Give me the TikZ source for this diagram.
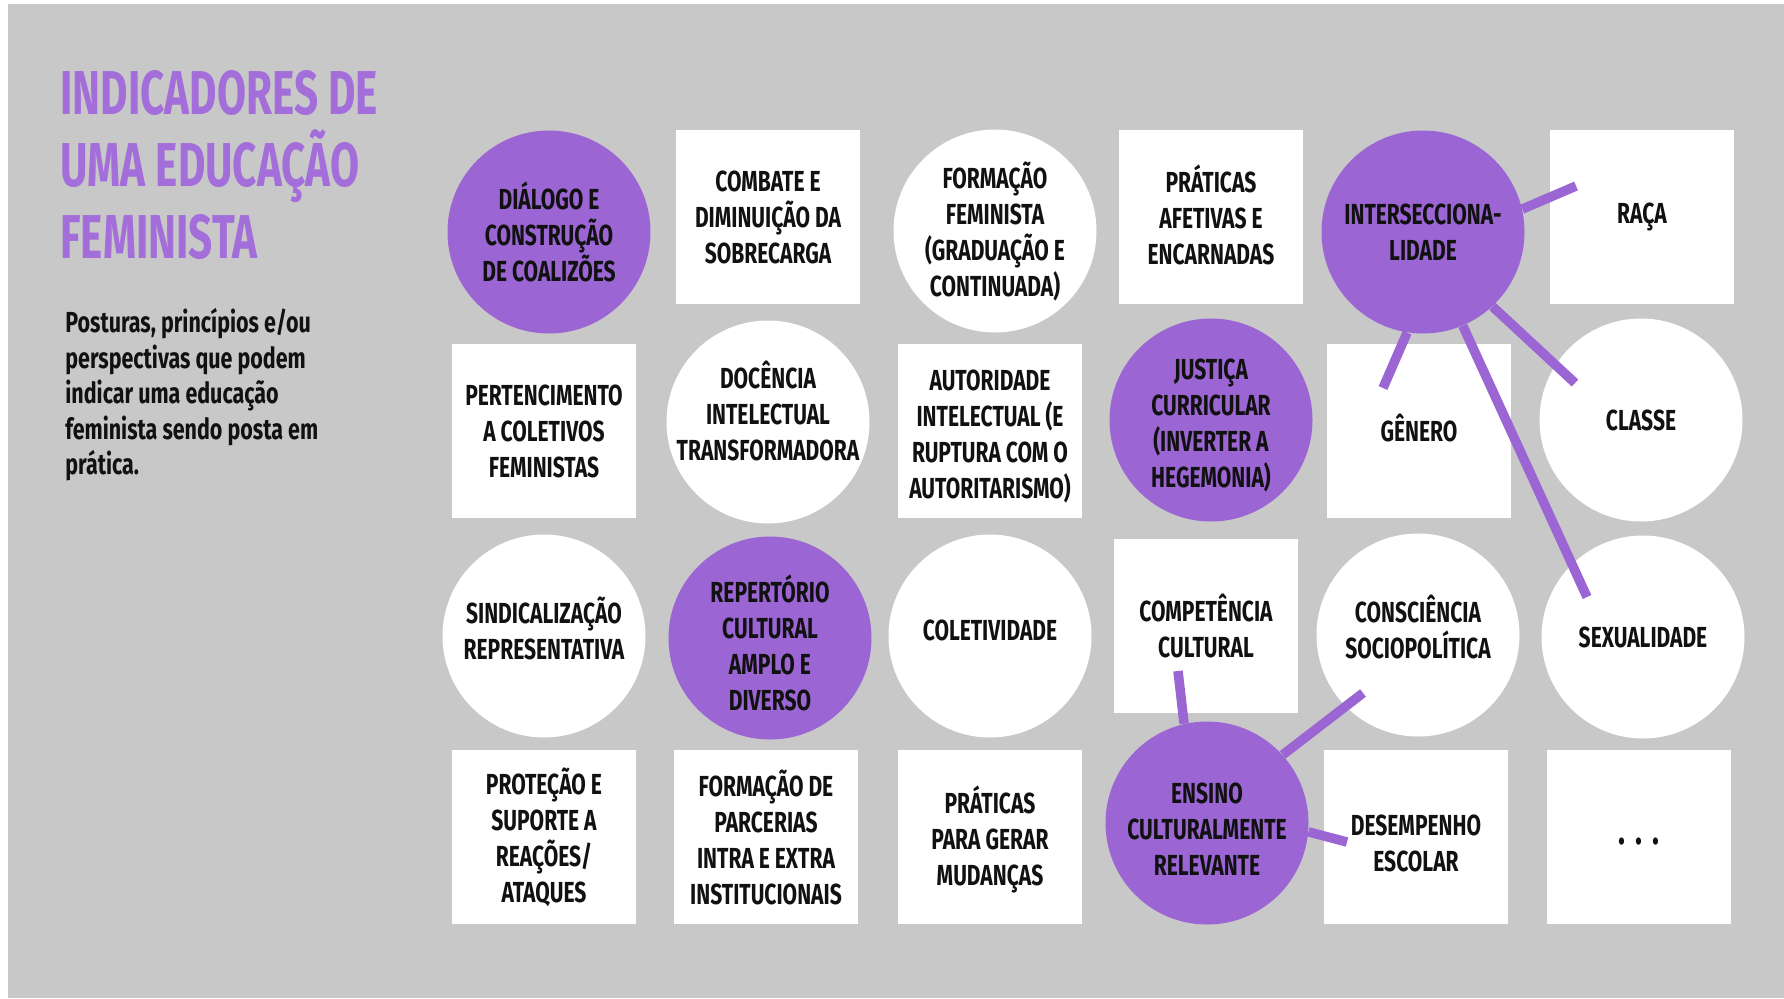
\documentclass[tikz,border=0pt]{standalone}
\usepackage{fontspec}
\setmainfont{Fira Sans}[FakeStretch=0.725]
\newfontfamily\titlefont{Fira Sans}[FakeStretch=0.68]
\newfontfamily\descfont{Fira Sans}[FakeStretch=0.74]
\definecolor{panel}{HTML}{C8C8C8}
\definecolor{purp}{HTML}{9B65D3}
\definecolor{titlepurp}{HTML}{A36EDA}
\definecolor{ink}{HTML}{111111}
% invisible rules that nudge a text block down (tall first line) or up (deep last line)
\newcommand\padtop[1]{\rule{0pt}{#1}}
\newcommand\padbot[1]{\rule[-#1]{0pt}{0pt}}
\tikzset{
  card/.style={font=\bfseries\fontsize{14.5}{18}\selectfont, text=ink, align=center, inner sep=0pt},
  box/.style={card, rectangle, fill=white, minimum width=92pt, minimum height=87pt},
  disc/.style={card, circle, fill=white, minimum size=101.5pt},
  hub/.style={disc, fill=purp},
  link/.style={draw=purp, line width=4.75pt}
}
\begin{document}
\begin{tikzpicture}[x=0.5pt,y=-0.5pt]
  \useasboundingbox (0,0) rectangle (1784,998);
  \fill[white] (0,0) rectangle (1784,998);
  \fill[panel] (8,4) rectangle (1784,998);

  % heading and description
  \node[anchor=north west, align=left, inner sep=0pt, text=titlepurp,
        font=\titlefont\bfseries\fontsize{31}{36}\selectfont] (title) at (60,70)
        {INDICADORES DE\\UMA EDUCAÇÃO\\FEMINISTA};
  \node[anchor=north west, align=left, inner sep=0pt, text=ink,
        font=\descfont\bfseries\fontsize{14.5}{17.75}\selectfont] (desc) at (65,308)
        {Posturas, princípios e/ou\\perspectivas que podem\\indicar uma educação\\feminista sendo posta em\\prática.};

  % row 1
  \node[hub]  (dialogo)  at (549,232)  {DIÁLOGO E\\CONSTRUÇÃO\\DE COALIZÕES};
  \node[box]  (combate)  at (768,217)  {COMBATE E\\DIMINUIÇÃO DA\\SOBRECARGA};
  \node[disc] (formfem)  at (995,231)  {FORMAÇÃO\\FEMINISTA\\(GRADUAÇÃO E\\CONTINUADA)};
  \node[box]  (afetivas) at (1211,217) {PRÁTICAS\\AFETIVAS E\\ENCARNADAS\padbot{2pt}};
  \node[hub]  (inter)    at (1423,232) {INTERSECCIONA-\\LIDADE};
  \node[box]  (raca)     at (1642,217) {RAÇA};

  % row 2
  \node[box]  (pertenc)  at (544,431)  {PERTENCIMENTO\\A COLETIVOS\\FEMINISTAS};
  \node[disc, inner sep=-6pt] (docencia) at (768,422)
        {DOCÊNCIA\\INTELECTUAL\\TRANSFORMADORA\padbot{11pt}};
  \node[box]  (autorid)  at (990,431)  {\padtop{16pt}AUTORIDADE\\INTELECTUAL (E\\RUPTURA COM O\\AUTORITARISMO)};
  \node[hub]  (justica)  at (1211,420) {\padtop{16pt}JUSTIÇA\\CURRICULAR\\(INVERTER A\\HEGEMONIA)};
  \node[box]  (genero)   at (1419,431) {GÊNERO\padbot{3pt}};
  \node[disc] (classe)   at (1641,420) {CLASSE};

  % row 3
  \node[disc] (sindic)   at (544,636)  {SINDICALIZAÇÃO\\REPRESENTATIVA\padbot{8pt}};
  \node[hub]  (repert)   at (770,638)  {\padtop{19pt}REPERTÓRIO\\CULTURAL\\AMPLO E\\DIVERSO};
  \node[disc] (coletiv)  at (990,636)  {COLETIVIDADE\padbot{6pt}};
  \node[box]  (compet)   at (1206,626) {\padtop{12pt}COMPETÊNCIA\\CULTURAL};
  \node[disc] (conscien) at (1418,635) {CONSCIÊNCIA\\SOCIOPOLÍTICA\padbot{8pt}};
  \node[disc] (sexual)   at (1643,637) {SEXUALIDADE};

  % row 4
  \node[box]  (protecao) at (544,837)  {\padtop{14pt}PROTEÇÃO E\\SUPORTE A\\REAÇÕES/\\ATAQUES};
  \node[box]  (parcer)   at (766,837)  {FORMAÇÃO DE\\PARCERIAS\\INTRA E EXTRA\\INSTITUCIONAIS};
  \node[box]  (mudancas) at (990,837)  {\padtop{16pt}PRÁTICAS\\PARA GERAR\\MUDANÇAS};
  \node[hub]  (ensino)   at (1207,823) {\padtop{16pt}ENSINO\\CULTURALMENTE\\RELEVANTE};
  \node[box]  (desemp)   at (1416,837) {\padtop{17pt}DESEMPENHO\\ESCOLAR};
  \node[box, font=\bfseries\fontsize{20}{20}\selectfont] (etc) at (1639,837)
        {\padtop{8pt}.\hspace{5pt}.\hspace{5pt}.};

  % connector ends inside the linked cards
  \coordinate (toRaca)   at (1576,186);
  \coordinate (toGenero) at (1383,388);
  \coordinate (toClasse) at (1575,383);
  \coordinate (toSexual) at (1587,597);
  \coordinate (toCompet) at (1178,671);
  \coordinate (toConsc)  at (1363,693);
  \coordinate (toDesemp) at (1347,842);

  % links from the two hubs
  \draw[link] (inter.13.9)   -- (toRaca);
  \draw[link] (inter.-99.8)  -- (toGenero);
  \draw[link] (inter.-47.4)  -- (toClasse);
  \draw[link] (inter.-67.2)  -- (toSexual);
  \draw[link] (ensino.103.3) -- (toCompet);
  \draw[link] (ensino.42.2)  -- (toConsc);
  \draw[link] (ensino.-5.1)  -- (toDesemp);
\end{tikzpicture}
\end{document}
